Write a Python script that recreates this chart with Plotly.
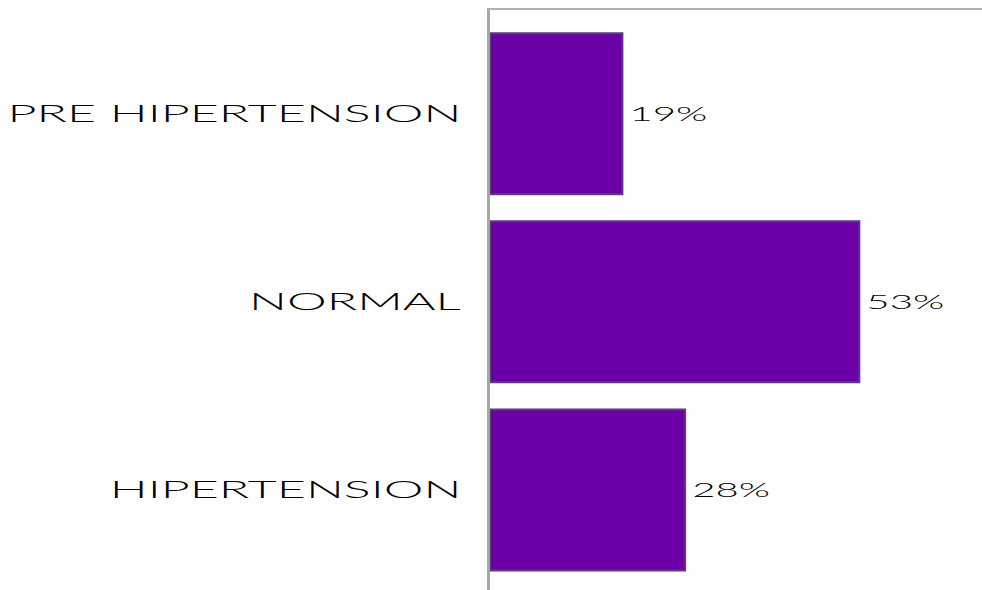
import plotly.graph_objects as go

categories = ["PRE HIPERTENSION", "NORMAL", "HIPERTENSION"]
values = [19, 53, 28]
value_labels = ["19%", "53%", "28%"]

fig = go.Figure()
fig.add_trace(go.Bar(
    x=values,
    y=categories,
    orientation="h",
    width=0.856,
    marker=dict(color="#6a00a5", line=dict(color="#5e3a80", width=2)),
    text=value_labels,
    textposition="outside",
    textfont=dict(family="Lato", size=19, color="#000000", weight=300),
    cliponaxis=False,
    hoverinfo="skip",
))

fig.update_layout(
    width=982,
    height=590,
    margin=dict(l=490, r=0, t=10, b=0),
    paper_bgcolor="white",
    plot_bgcolor="white",
    showlegend=False,
    font=dict(family="Lato", color="#000000"),
    xaxis=dict(
        range=[0, 70.6],
        side="top",
        showline=True,
        linecolor="#b0b0b0",
        linewidth=2,
        showgrid=False,
        zeroline=False,
        showticklabels=False,
        ticks="",
    ),
    yaxis=dict(
        type="category",
        categoryorder="array",
        categoryarray=categories,
        range=[2.532, -0.551],
        showline=True,
        linecolor="#a6a6a6",
        linewidth=3,
        showgrid=False,
        zeroline=False,
        ticks="",
        ticklabelstandoff=21,
        tickfont=dict(family="Lato", size=23, color="#000000", weight=300),
    ),
)

post = """
document.body.style.margin = '0';
var gd = document.getElementById('{plot_id}');
function stretch(sel, targetWidth, anchor, dx) {
  var els = Array.prototype.slice.call(gd.querySelectorAll(sel));
  var maxw = 0;
  els.forEach(function (t) { maxw = Math.max(maxw, t.getBBox().width); });
  var sx = maxw > 0 ? targetWidth / maxw : 1;
  els.forEach(function (t) {
    var b = t.getBBox();
    var ax = anchor === 'right' ? b.x + b.width : b.x;
    var tr = t.getAttribute('transform') || '';
    t.setAttribute('transform', tr + ' translate(' + (ax + dx) + ',0) scale(' + sx + ',1) translate(' + (-ax) + ',0)');
  });
}
stretch('.ytick text', 454, 'right', 0);
stretch('.bartext', 78, 'left', 4);
"""

fig.write_html("out.html", post_script=post, config={"displayModeBar": False})
